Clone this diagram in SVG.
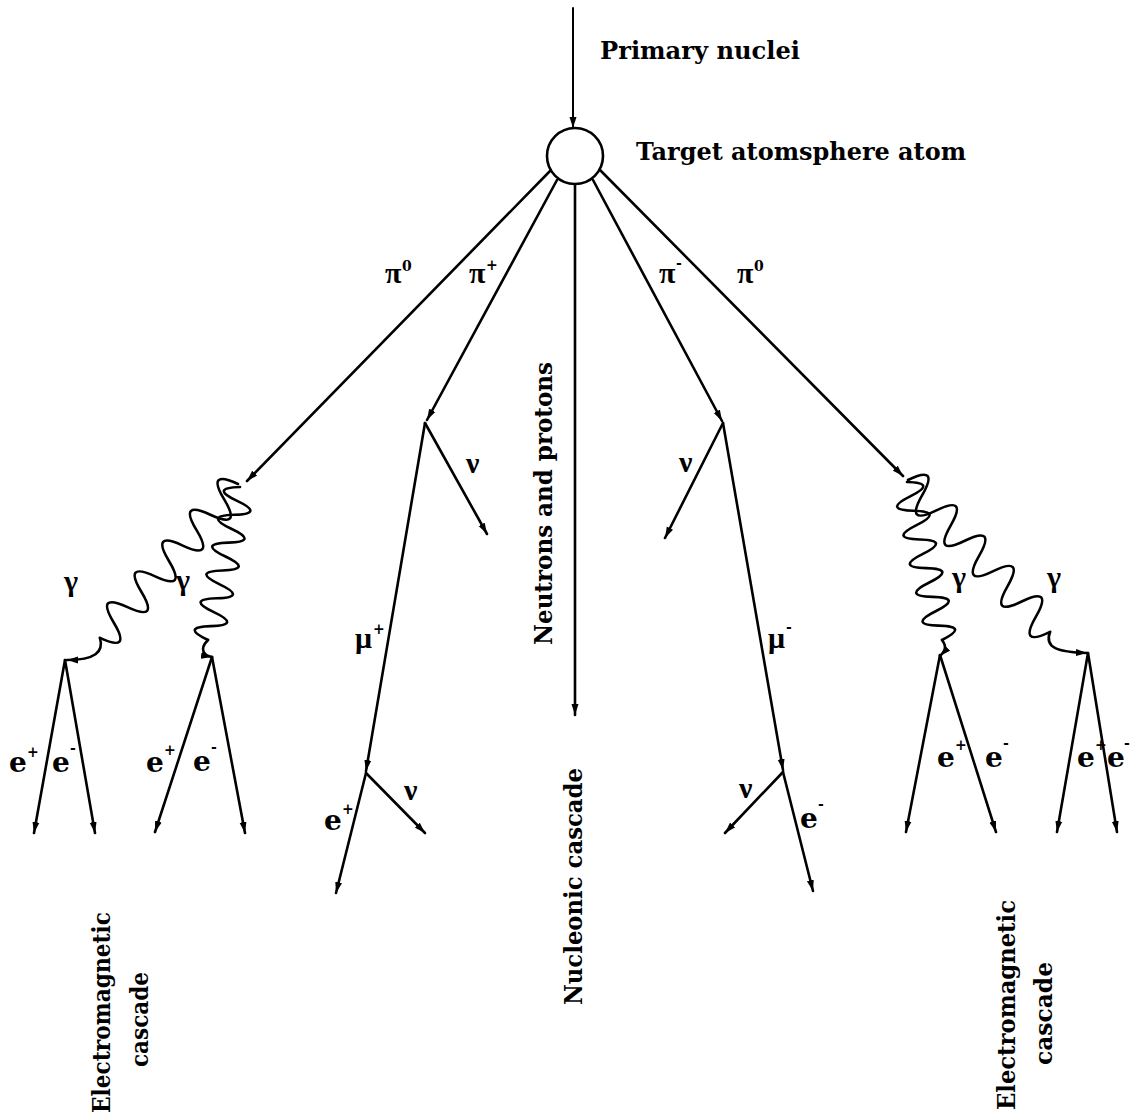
<svg xmlns="http://www.w3.org/2000/svg" width="1131" height="1115" viewBox="0 0 1131 1115">
<style>
.ln{fill:none;stroke:#000;stroke-width:2.6;stroke-linecap:round;stroke-linejoin:round}
.ar{marker-end:url(#arr)}
.t{font-family:"DejaVu Serif","Liberation Serif",serif;font-weight:bold;fill:#000}
.lb{font-size:25px}
.g{font-family:"Liberation Serif","DejaVu Serif",serif;font-size:30px}
.e{font-size:28px}
.s{font-size:14px}
</style>
<defs>
<marker id="arr" markerUnits="userSpaceOnUse" markerWidth="12" markerHeight="8" refX="11" refY="4" orient="auto">
<path d="M0,0.5 L11,4 L0,7.5 z" fill="#000"/>
</marker>
</defs>
<rect width="1131" height="1115" fill="#fff"/>

<g id="connectors">
<path class="ln ar" style="stroke-width:2" d="M573,8 L573,128"/>
<path class="ln ar" d="M551,170 L247,481"/>
<path class="ln ar" d="M557,180 L427,420"/>
<path class="ln ar" d="M575,185 L575,715"/>
<path class="ln ar" d="M593,180 L722,421"/>
<path class="ln ar" d="M600,170 L903,476"/>
<path class="ln ar" d="M425,423 L366,771"/>
<path class="ln ar" d="M425,423 L487,534"/>
<path class="ln ar" d="M366,773 L336,893"/>
<path class="ln ar" d="M366,773 L425,833"/>
<path class="ln ar" d="M723,423 L783,770"/>
<path class="ln ar" d="M723,423 L665,538"/>
<path class="ln ar" d="M783,772 L813,891"/>
<path class="ln ar" d="M783,772 L725,833"/>
<path class="ln ar" d="M65,660 L34,833"/>
<path class="ln ar" d="M65,660 L95,833"/>
<path class="ln ar" d="M212,657 L155,832"/>
<path class="ln ar" d="M212,657 L245,833"/>
<path class="ln ar" d="M940,655 L906,832"/>
<path class="ln ar" d="M940,655 L996,832"/>
<path class="ln ar" d="M1088,653 L1057,832"/>
<path class="ln ar" d="M1088,653 L1117,832"/>
<path class="ln" transform="translate(238,484) rotate(131.9)" d="M0,0 q10.34,34 20.68,0 t20.68,0 t20.68,0 t20.68,0 t20.68,0 t20.68,0 t20.68,0 t20.68,0 t20.68,0 t20.68,0"/>
<path class="ln ar" d="M100,638 C104,652 95,660 67,660"/>
<path class="ln" transform="translate(240,487) rotate(101.8)" d="M0,0 q7.1,30 14.21,0 t14.21,0 t14.21,0 t14.21,0 t14.21,0 t14.21,0 t14.21,0 t14.21,0 t14.21,0 t14.21,0 t14.21,0"/>
<path class="ln ar" d="M208,640 C198,650 205,656 212,657"/>
<path class="ln" transform="translate(907,482) rotate(77.5)" d="M0,0 q7.35,-30 14.71,0 t14.71,0 t14.71,0 t14.71,0 t14.71,0 t14.71,0 t14.71,0 t14.71,0 t14.71,0 t14.71,0 t14.71,0"/>
<path class="ln ar" d="M942,640 C948,648 944,652 940,656"/>
<path class="ln" transform="translate(908,480) rotate(46.9)" d="M0,0 q10.4,-34 20.8,0 t20.8,0 t20.8,0 t20.8,0 t20.8,0 t20.8,0 t20.8,0 t20.8,0 t20.8,0 t20.8,0"/>
<path class="ln ar" d="M1050,632 C1044,648 1058,652 1087,653"/>
</g>

<g id="primary">
<text class="t lb" x="600" y="59" textLength="200" lengthAdjust="spacingAndGlyphs">Primary nuclei</text>
</g>
<g id="target">
<circle cx="575" cy="156" r="28" fill="#fff" stroke="#000" stroke-width="2.6"/>
<text class="t lb" x="636" y="160" textLength="330" lengthAdjust="spacingAndGlyphs">Target atomsphere atom</text>
</g>
<g id="nucleons">
<text class="t lb" transform="translate(552,645) rotate(-90)" textLength="283" lengthAdjust="spacingAndGlyphs">Neutrons and protons</text>
<text class="t lb" transform="translate(582,1005) rotate(-90)" textLength="237" lengthAdjust="spacingAndGlyphs">Nucleonic cascade</text>
</g>
<g id="em-left">
<text class="t lb" transform="translate(110,1113) rotate(-90)" textLength="201" lengthAdjust="spacingAndGlyphs">Electromagnetic</text>
<text class="t lb" transform="translate(148,1067) rotate(-90)" textLength="95" lengthAdjust="spacingAndGlyphs">cascade</text>
</g>
<g id="em-right">
<text class="t lb" transform="translate(1015,1110) rotate(-90)" textLength="210" lengthAdjust="spacingAndGlyphs">Electromagnetic</text>
<text class="t lb" transform="translate(1052,1065) rotate(-90)" textLength="103" lengthAdjust="spacingAndGlyphs">cascade</text>
</g>

<g id="particle-labels">
<text class="t g" x="385" y="283">π</text><text class="t s" x="402" y="271">0</text>
<text class="t g" x="469" y="283">π</text><text class="t s" x="486" y="270">+</text>
<text class="t g" x="659" y="283">π</text><text class="t s" x="676" y="268">-</text>
<text class="t g" x="737" y="283">π</text><text class="t s" x="754" y="271">0</text>
<text class="t g" x="355" y="648">μ</text><text class="t s" x="373" y="634">+</text>
<text class="t g" x="768" y="648">μ</text><text class="t s" x="786" y="632">-</text>
<text class="t g" x="466" y="473">ν</text>
<text class="t g" x="679" y="472">ν</text>
<text class="t g" x="404" y="800">ν</text>
<text class="t g" x="739" y="798">ν</text>
<text class="t g" x="64" y="591">γ</text>
<text class="t g" x="176" y="590">γ</text>
<text class="t g" x="952" y="587">γ</text>
<text class="t g" x="1047" y="587">γ</text>
<text class="t e" x="9" y="772">e</text><text class="t s" x="27" y="757">+</text>
<text class="t e" x="52" y="772">e</text><text class="t s" x="70" y="753">-</text>
<text class="t e" x="146" y="772">e</text><text class="t s" x="164" y="755">+</text>
<text class="t e" x="193" y="771">e</text><text class="t s" x="211" y="752">-</text>
<text class="t e" x="324" y="830">e</text><text class="t s" x="342" y="814">+</text>
<text class="t e" x="800" y="828">e</text><text class="t s" x="818" y="809">-</text>
<text class="t e" x="937" y="767">e</text><text class="t s" x="955" y="750">+</text>
<text class="t e" x="985" y="767">e</text><text class="t s" x="1003" y="748">-</text>
<text class="t e" x="1077" y="767">e</text><text class="t s" x="1095" y="750">+</text>
<text class="t e" x="1107" y="767">e</text><text class="t s" x="1124" y="748">-</text>
</g>
</svg>
